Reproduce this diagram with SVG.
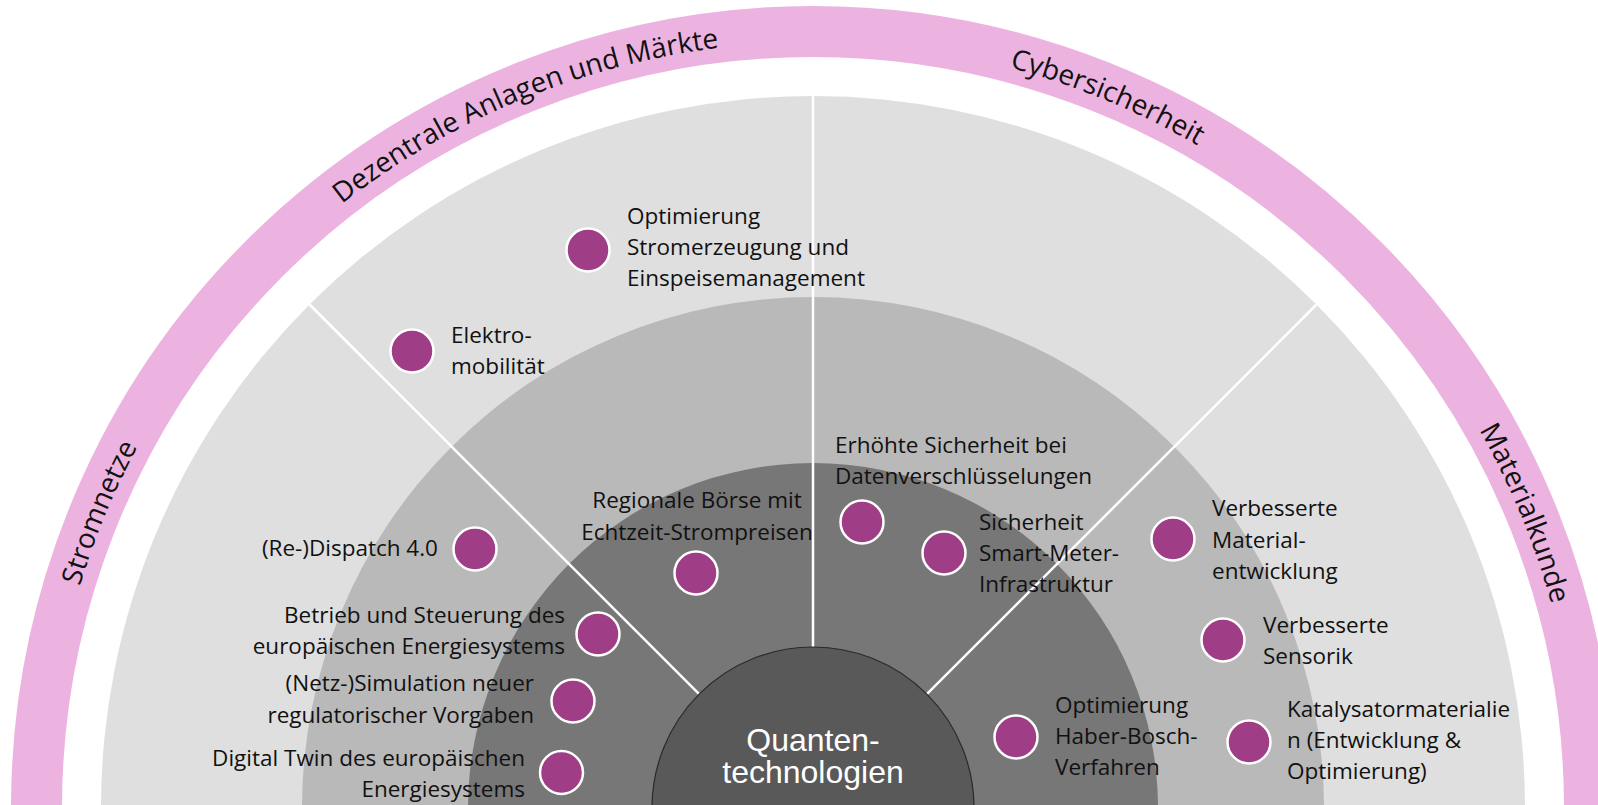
<svg xmlns="http://www.w3.org/2000/svg" width="1598" height="805" viewBox="0 0 1598 805">
<style>
.lbl{font-family:"Open Sans","Liberation Sans",sans-serif;font-size:22.5px;fill:#111}
.end{text-anchor:end}
.mid{text-anchor:middle}
.arc{font-family:"Open Sans","Liberation Sans",sans-serif;font-size:28px;fill:#111;text-anchor:middle}
.dot{fill:#9f3d86;stroke:#fff;stroke-width:2.5}
.div{stroke:#fff;stroke-width:2.5;fill:none}
.core{font-family:"Liberation Sans",Arial,sans-serif;font-size:32px;fill:#fff;text-anchor:middle}
</style>
<defs>
<path id="band" d="M 47 808 A 766 766 0 0 1 1579 808"/>
</defs>
<rect width="1598" height="805" fill="#fff"/>
<g id="rings">
<circle cx="813" cy="808" r="776.5" fill="none" stroke="#ecb3e0" stroke-width="51"/>
<circle cx="813" cy="808" r="712" fill="#dfdfdf"/>
<circle cx="813" cy="808" r="511" fill="#b9b9b9"/>
<circle cx="813" cy="808" r="345" fill="#777777"/>
</g>
<g id="connectors">
<line class="div" x1="813" y1="96" x2="813" y2="647"/>
<line class="div" x1="309.5" y1="304.5" x2="699.2" y2="694.2"/>
<line class="div" x1="1316.5" y1="304.5" x2="926.8" y2="694.2"/>
</g>
<g id="sector-labels">
<text class="arc"><textPath href="#band" startOffset="12.5%">Stromnetze</textPath></text>
<text class="arc"><textPath href="#band" startOffset="37.5%">Dezentrale Anlagen und Märkte</textPath></text>
<text class="arc"><textPath href="#band" startOffset="62.5%">Cybersicherheit</textPath></text>
<text class="arc"><textPath href="#band" startOffset="87.5%">Materialkunde</textPath></text>
</g>
<g id="core">
<circle cx="813" cy="808" r="161" fill="#595959" stroke="#2a2a2a" stroke-width="1.2"/>
<text class="core" x="813" y="751">Quanten-</text>
<text class="core" x="813" y="783">technologien</text>
</g>
<g id="n-optimierung-strom">
<circle class="dot" cx="588" cy="250" r="21.5"/>
<text class="lbl" x="627" y="224">Optimierung</text>
<text class="lbl" x="627" y="255">Stromerzeugung und</text>
<text class="lbl" x="627" y="286">Einspeisemanagement</text>
</g>
<g id="n-elektromobilitaet">
<circle class="dot" cx="412" cy="351" r="21.5"/>
<text class="lbl" x="451" y="343">Elektro-</text>
<text class="lbl" x="451" y="374">mobilität</text>
</g>
<g id="n-redispatch">
<circle class="dot" cx="475" cy="549" r="21.5"/>
<text class="lbl end" x="438" y="556">(Re-)Dispatch 4.0</text>
</g>
<g id="n-regionale-boerse">
<circle class="dot" cx="696" cy="573" r="21.5"/>
<text class="lbl mid" x="697" y="508">Regionale Börse mit</text>
<text class="lbl mid" x="697" y="540">Echtzeit-Strompreisen</text>
</g>
<g id="n-betrieb">
<circle class="dot" cx="598" cy="634" r="21.5"/>
<text class="lbl end" x="565" y="623">Betrieb und Steuerung des</text>
<text class="lbl end" x="565" y="654">europäischen Energiesystems</text>
</g>
<g id="n-netzsimulation">
<circle class="dot" cx="573" cy="701" r="21.5"/>
<text class="lbl end" x="534" y="691">(Netz-)Simulation neuer</text>
<text class="lbl end" x="534" y="723">regulatorischer Vorgaben</text>
</g>
<g id="n-digital-twin">
<circle class="dot" cx="561.5" cy="772.5" r="21.5"/>
<text class="lbl end" x="525" y="766">Digital Twin des europäischen</text>
<text class="lbl end" x="525" y="797">Energiesystems</text>
</g>
<g id="n-erhoehte-sicherheit">
<circle class="dot" cx="862" cy="522" r="21.5"/>
<text class="lbl" x="835" y="453">Erhöhte Sicherheit bei</text>
<text class="lbl" x="835" y="484">Datenverschlüsselungen</text>
</g>
<g id="n-smart-meter">
<circle class="dot" cx="944" cy="553" r="21.5"/>
<text class="lbl" x="979" y="530">Sicherheit</text>
<text class="lbl" x="979" y="561">Smart-Meter-</text>
<text class="lbl" x="979" y="592">Infrastruktur</text>
</g>
<g id="n-materialentwicklung">
<circle class="dot" cx="1173" cy="539" r="21.5"/>
<text class="lbl" x="1212" y="516">Verbesserte</text>
<text class="lbl" x="1212" y="548">Material-</text>
<text class="lbl" x="1212" y="579">entwicklung</text>
</g>
<g id="n-sensorik">
<circle class="dot" cx="1223" cy="640" r="21.5"/>
<text class="lbl" x="1263" y="633">Verbesserte</text>
<text class="lbl" x="1263" y="664">Sensorik</text>
</g>
<g id="n-haber-bosch">
<circle class="dot" cx="1016" cy="737" r="21.5"/>
<text class="lbl" x="1055" y="713">Optimierung</text>
<text class="lbl" x="1055" y="744">Haber-Bosch-</text>
<text class="lbl" x="1055" y="775">Verfahren</text>
</g>
<g id="n-katalysator">
<circle class="dot" cx="1249" cy="742" r="21.5"/>
<text class="lbl" x="1287" y="717">Katalysatormaterialie</text>
<text class="lbl" x="1287" y="748">n (Entwicklung &amp;</text>
<text class="lbl" x="1287" y="779">Optimierung)</text>
</g>
</svg>
